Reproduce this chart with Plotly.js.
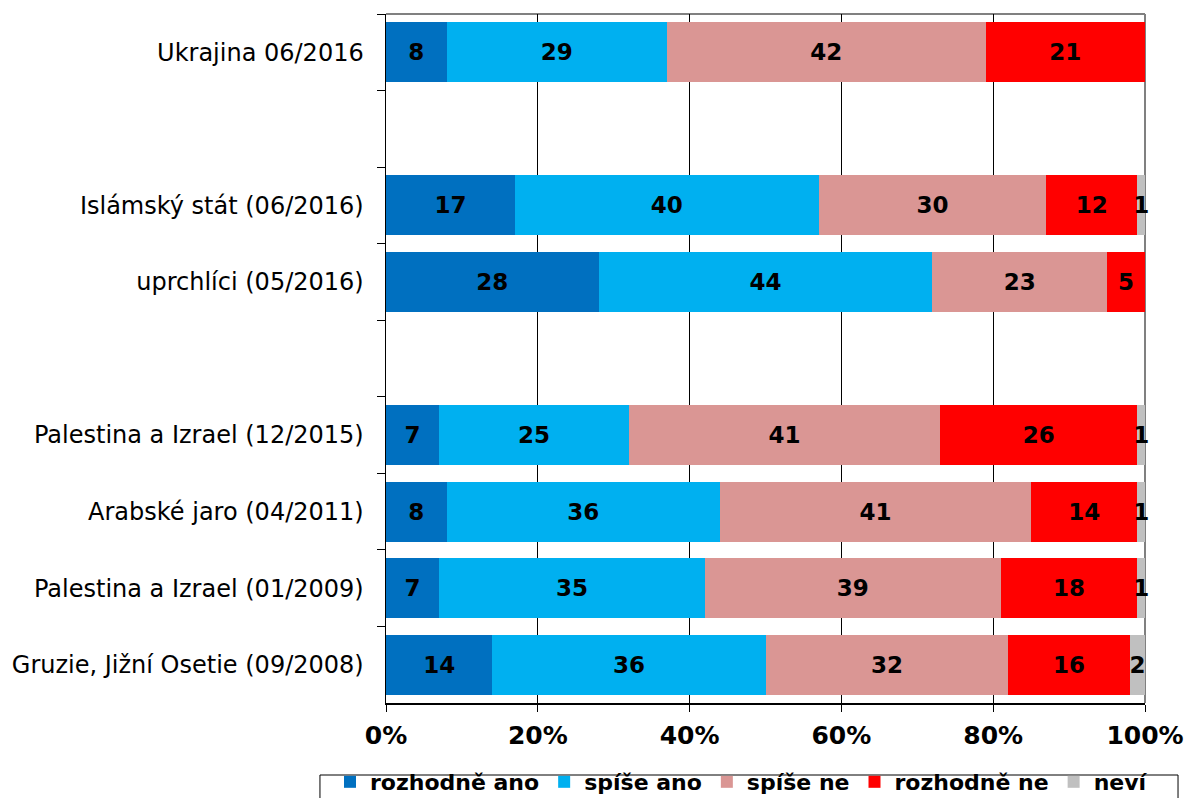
<!DOCTYPE html>
<html>
<head>
<meta charset="utf-8">
<script src="https://cdn.plot.ly/plotly-3.0.1.min.js"></script>
<style>html,body{margin:0;padding:0;background:#fff;}#chart{width:1187px;height:798px;}</style>
</head>
<body>
<div id="chart"></div>
<script>
var categories = ["Ukrajina 06/2016", " ", "Islámský stát (06/2016)", "uprchlíci (05/2016)", "  ",
  "Palestina a Izrael (12/2015)", "Arabské jaro (04/2011)", "Palestina a Izrael (01/2009)", "Gruzie, Jižní Osetie (09/2008)"];
var seriesNames = ["rozhodně ano", "spíše ano", "spíše ne", "rozhodně ne", "neví"];
var rozhodneAno = [8, null, 17, 28, null, 7, 8, 7, 14];
var spiseAno    = [29, null, 40, 44, null, 25, 36, 35, 36];
var spiseNe     = [42, null, 30, 23, null, 41, 41, 39, 32];
var rozhodneNe  = [21, null, 12, 5, null, 26, 14, 18, 16];
var nevi        = [null, null, 1, null, null, 1, 1, 1, 2];
var xTickVals = [0, 20, 40, 60, 80, 100];
var xTickText = ["0%", "20%", "40%", "60%", "80%", "100%"];

var colors = ["#0070C0", "#00B0F0", "#DA9694", "#FF0000", "#C0C0C0"];
var seriesValues = [rozhodneAno, spiseAno, spiseNe, rozhodneNe, nevi];

var traces = seriesValues.map(function (vals, i) {
  return {
    type: "bar",
    orientation: "h",
    name: seriesNames[i],
    y: categories,
    x: vals,
    marker: {color: colors[i], line: {width: 0}},
    text: vals.map(function (v) { return v === null ? "" : String(v); }),
    textposition: "inside",
    insidetextanchor: "middle",
    constraintext: "none",
    textangle: 0,
    cliponaxis: false,
    textfont: {family: "DejaVu Sans", size: 23, color: "#000", weight: "bold"},
    hoverinfo: "skip"
  };
});

var layout = {
  width: 1187,
  height: 798,
  barmode: "stack",
  bargap: 0.216,
  margin: {l: 386, r: 42, t: 14, b: 95, pad: 0, autoexpand: false},
  paper_bgcolor: "#fff",
  plot_bgcolor: "#fff",
  showlegend: true,
  font: {family: "DejaVu Sans", color: "#000"},
  xaxis: {
    range: [0, 100],
    tickvals: xTickVals,
    ticktext: xTickText,
    ticks: "outside",
    ticklen: 7,
    tickwidth: 1,
    tickcolor: "#000",
    showgrid: true,
    gridcolor: "#000",
    gridwidth: 1,
    zeroline: false,
    showline: true,
    linecolor: "#000",
    linewidth: 1.5,
    ticklabelstandoff: 2,
    tickfont: {family: "DejaVu Sans", size: 25, color: "#000", weight: "bold"},
    fixedrange: true
  },
  yaxis: {
    type: "category",
    categoryorder: "array",
    categoryarray: categories,
    range: [8.5, -0.5],
    tickson: "boundaries",
    ticks: "outside",
    ticklen: 8,
    tickwidth: 1,
    tickcolor: "#000",
    showgrid: false,
    zeroline: false,
    showline: true,
    linecolor: "#000",
    linewidth: 1.5,
    ticklabelstandoff: 16,
    tickfont: {family: "DejaVu Sans", size: 24, color: "#000"},
    fixedrange: true
  },
  legend: {
    orientation: "h",
    x: -0.0738,
    xanchor: "left",
    y: -0.0842,
    yanchor: "top",
    borderwidth: 0,
    bgcolor: "rgba(0,0,0,0)",
    traceorder: "normal",
    font: {family: "DejaVu Sans", size: 22, color: "#000", weight: "bold"}
  },
  shapes: [
    {type: "line", xref: "paper", yref: "paper", layer: "below", x0: 0, x1: 1, y0: 1, y1: 1, line: {color: "#808080", width: 2}},
    {type: "line", xref: "paper", yref: "paper", layer: "below", x0: 1, x1: 1, y0: 0, y1: 1, line: {color: "#808080", width: 2}},
    {type: "rect", xref: "paper", yref: "paper", x0: -0.087, x1: 1.0435, y0: -0.1045, y1: -0.16, line: {color: "#000", width: 1}, fillcolor: "rgba(0,0,0,0)"}
  ]
};

Plotly.newPlot("chart", traces, layout, {displayModeBar: false, staticPlot: true});
</script>
</body>
</html>
